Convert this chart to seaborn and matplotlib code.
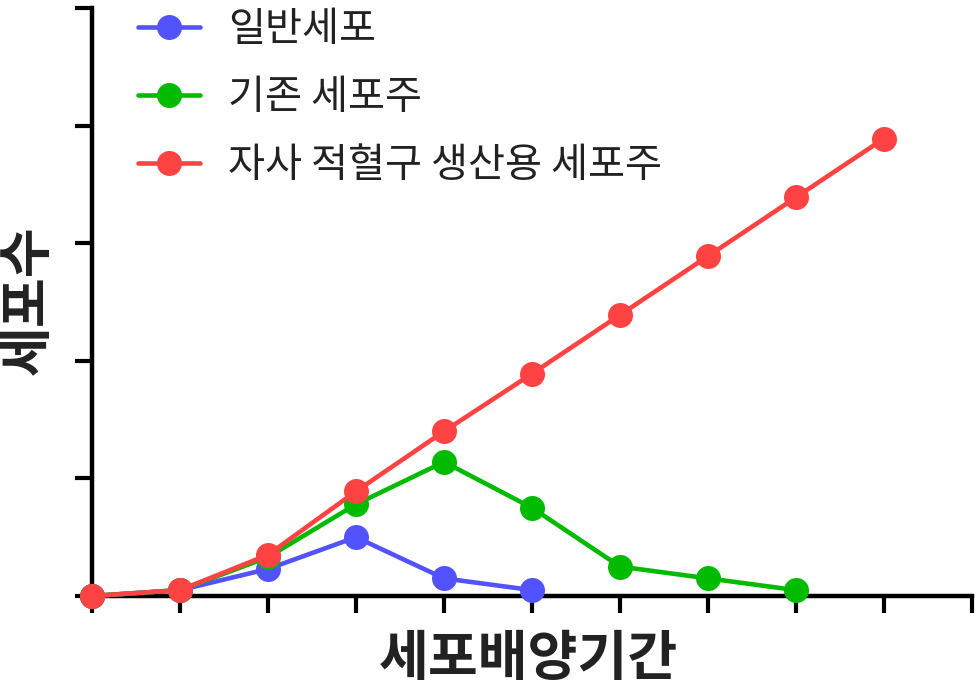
import matplotlib
matplotlib.use("Agg")
import matplotlib.pyplot as plt
import seaborn as sns
import pandas as pd

days_blue = [0, 1, 2, 3, 4, 5]
vals_blue = [0, 0.05, 0.23, 0.50, 0.15, 0.05]
days_green = [0, 1, 2, 3, 4, 5, 6, 7, 8]
vals_green = [0, 0.05, 0.33, 0.78, 1.14, 0.75, 0.25, 0.15, 0.05]
days_red = [0, 1, 2, 3, 4, 5, 6, 7, 8, 9]
vals_red = [0, 0.05, 0.35, 0.89, 1.40, 1.89, 2.39, 2.89, 3.39, 3.89]
labels = ["일반세포", "기존 세포주", "자사 적혈구 생산용 세포주"]
colors = ["#5252FF", "#00BB00", "#FF4242"]
x_ticks = list(range(0, 11))
y_ticks = list(range(0, 6))

sns.set_style("ticks")
plt.rcParams['font.family'] = ['Noto Sans CJK KR', 'DejaVu Sans']

W, H = 979, 692
fig = plt.figure(figsize=(W / 100, H / 100), dpi=100)
ax = fig.add_axes([92 / W, 96 / H, 880 / W, 588 / H])

series = [(days_blue, vals_blue), (days_green, vals_green), (days_red, vals_red)]
for (d, v), lab, c in zip(series, labels, colors):
    df = pd.DataFrame({"day": d, "cells": v})
    sns.lineplot(data=df, x="day", y="cells", ax=ax, color=c, marker="o",
                 markersize=18, markeredgewidth=0, linewidth=3.3, label=lab,
                 clip_on=False, zorder=3)

ax.set_xlim(0, 10)
ax.set_ylim(0, 5)
ax.set_xticks(x_ticks)
ax.set_yticks(y_ticks)
ax.set_xticklabels([])
ax.set_yticklabels([])
ax.tick_params(direction="out", length=12, width=3, color="black")
for s in ["top", "right"]:
    ax.spines[s].set_visible(False)
for s in ["left", "bottom"]:
    ax.spines[s].set_linewidth(3.2)
    ax.spines[s].set_color("black")

ax.set_xlabel("세포배양기간", fontsize=39, fontweight="bold", color="#222222", va="center")
ax.xaxis.set_label_coords((528 - 92) / 880, (596 - 659) / 588)
ax.set_ylabel("세포수", fontsize=39, fontweight="bold", color="#222222", va="center")
ax.yaxis.set_label_coords((28 - 92) / 880, (596 - 300) / 588)

leg = ax.legend(loc="upper left", bbox_to_anchor=(138 / W, 1 - 9 / H),
                bbox_transform=fig.transFigure, frameon=False, fontsize=29,
                handlelength=1.54, handletextpad=0.7, labelspacing=0.67,
                borderpad=0, borderaxespad=0)
for t in leg.get_texts():
    t.set_color("#222222")

fig.savefig("out.png", dpi=100)
